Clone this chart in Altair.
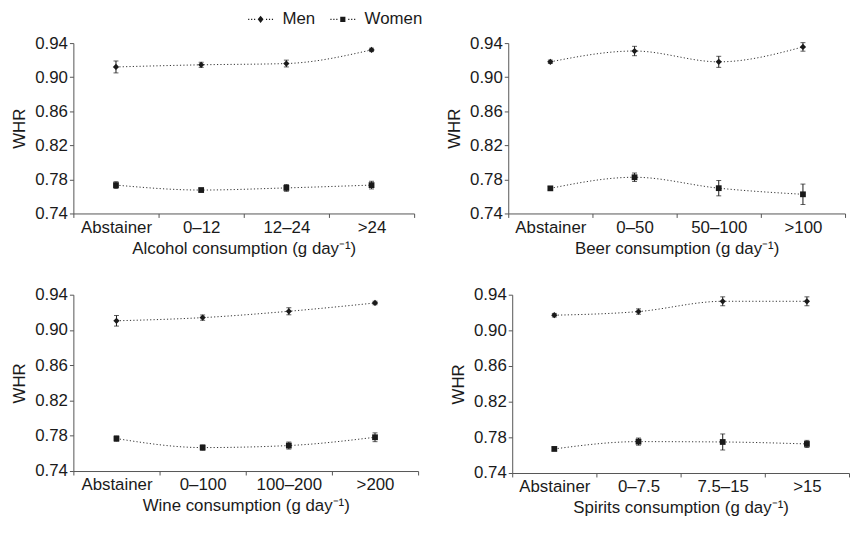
import altair as alt
import pandas as pd

# ---------------- data ----------------
alcohol_cats = ["Abstainer", "0–12", "12–24", ">24"]
alcohol_men = [0.912, 0.9145, 0.916, 0.932]
alcohol_men_err = [0.007, 0.003, 0.004, 0.002]
alcohol_women = [0.7733, 0.7675, 0.770, 0.7733]
alcohol_women_err = [0.004, 0.002, 0.004, 0.0045]

beer_cats = ["Abstainer", "0–50", "50–100", ">100"]
beer_men = [0.918, 0.9307, 0.918, 0.9355]
beer_men_err = [0.002, 0.0055, 0.0065, 0.005]
beer_women = [0.7695, 0.7825, 0.7697, 0.7625]
beer_women_err = [0.002, 0.005, 0.009, 0.012]

wine_cats = ["Abstainer", "0–100", "100–200", ">200"]
wine_men = [0.9104, 0.914, 0.9212, 0.9306]
wine_men_err = [0.006, 0.003, 0.004, 0.002]
wine_women = [0.7768, 0.7666, 0.7689, 0.7783]
wine_women_err = [0.003, 0.003, 0.004, 0.005]

spirits_cats = ["Abstainer", "0–7.5", "7.5–15", ">15"]
spirits_men = [0.917, 0.9211, 0.9326, 0.9326]
spirits_men_err = [0.002, 0.003, 0.005, 0.005]
spirits_women = [0.767, 0.7752, 0.7748, 0.7726]
spirits_women_err = [0.002, 0.004, 0.009, 0.004]

sexes = ["Men", "Women"]
y_ticks = [0.74, 0.78, 0.82, 0.86, 0.90, 0.94]

FONT = "Liberation Sans"
INK = "#1a1a1a"
FS = 17


# legend glyphs: a dotted line (tiny filled squares) with the marker in the middle
def dotted(marker):
    d = 0.065
    dots = "".join(
        f"M{cx - d:.3f},{-d:.3f}L{cx + d:.3f},{-d:.3f}L{cx + d:.3f},{d:.3f}L{cx - d:.3f},{d:.3f}Z"
        for cx in (-1.33, -1.0, -0.67, 0.67, 1.0, 1.33)
    )
    return dots + marker


men_path = dotted("M0,-0.4L0.33,0L0,0.4L-0.33,0Z")
women_path = dotted("M-0.29,-0.29L0.29,-0.29L0.29,0.29L-0.29,0.29Z")


def make_df(cats, men, men_err, women, women_err):
    rows = []
    for c, m, e in zip(cats, men, men_err):
        rows.append({"cat": c, "sex": "Men", "mean": m, "lo": m - e, "hi": m + e})
    for c, m, e in zip(cats, women, women_err):
        rows.append({"cat": c, "sex": "Women", "mean": m, "lo": m - e, "hi": m + e})
    return pd.DataFrame(rows)


def make_panel(cats, men, men_err, women, women_err, xtitle, w, h, legend=False):
    df = make_df(cats, men, men_err, women, women_err)
    base = alt.Chart(df)
    x = alt.X(
        "cat:N",
        sort=cats,
        scale=alt.Scale(domain=cats, paddingInner=0, paddingOuter=0),
        axis=alt.Axis(title=xtitle, labelAngle=0, tickBand="extent", tickSize=4,
                      labelPadding=2, titlePadding=5),
    )
    yscale = alt.Scale(domain=[0.74, 0.94], zero=False, nice=False)
    yaxis = alt.Axis(title="WHR", values=y_ticks, format=".2f", grid=False,
                     tickSize=4, labelPadding=2, titlePadding=6,
                     labelOverlap=False, labelBound=False)
    y = alt.Y("mean:Q", scale=yscale, axis=yaxis)
    ylo = alt.Y("lo:Q", scale=yscale, axis=yaxis)
    yhi = alt.Y("hi:Q", scale=yscale, axis=yaxis)
    line = base.mark_line(strokeDash=[1.2, 2.2], strokeWidth=1, color="#333",
                          interpolate="monotone").encode(x=x, y=y, detail="sex:N")
    rule = base.mark_rule(color=INK, strokeWidth=1).encode(x=x, y=ylo, y2="hi:Q")
    cap_lo = base.mark_tick(color=INK, size=5, thickness=1, orient="horizontal").encode(x=x, y=ylo)
    cap_hi = base.mark_tick(color=INK, size=5, thickness=1, orient="horizontal").encode(x=x, y=yhi)
    men_pts = base.transform_filter(alt.datum.sex == "Men").mark_point(
        shape="diamond", filled=True, size=40, color=INK, opacity=1).encode(x=x, y=y)
    women_pts = base.transform_filter(alt.datum.sex == "Women").mark_point(
        shape="square", filled=True, size=34, color=INK, opacity=1).encode(x=x, y=y)
    layers = [line, rule, cap_lo, cap_hi, men_pts, women_pts]
    if legend:
        leg = base.mark_point(filled=True, opacity=0, color=INK).encode(
            x=x, y=y,
            shape=alt.Shape(
                "sex:N",
                scale=alt.Scale(domain=sexes, range=[men_path, women_path]),
                legend=alt.Legend(
                    title=None, orient="none", direction="horizontal",
                    legendX=180, legendY=-33,
                    symbolSize=324, symbolFillColor=INK, symbolOpacity=1,
                    symbolStrokeWidth=0,
                    labelFontSize=FS, labelFont=FONT, labelColor=INK,
                    labelOffset=13, columnPadding=14,
                ),
            ),
        )
        layers.append(leg)
    return alt.layer(*layers).properties(width=w, height=h)


p1 = make_panel(alcohol_cats, alcohol_men, alcohol_men_err, alcohol_women, alcohol_women_err,
                "Alcohol consumption (g day⁻¹)", 344, 172, legend=True)
p2 = make_panel(beer_cats, beer_men, beer_men_err, beer_women, beer_women_err,
                "Beer consumption (g day⁻¹)", 340, 172)
p3 = make_panel(wine_cats, wine_men, wine_men_err, wine_women, wine_women_err,
                "Wine consumption (g day⁻¹)", 348, 178)
p4 = make_panel(spirits_cats, spirits_men, spirits_men_err, spirits_women, spirits_women_err,
                "Spirits consumption (g day⁻¹)", 340, 180)

chart = alt.vconcat(
    alt.hconcat(p1, p2, spacing=30),
    alt.hconcat(p3, p4, spacing=30),
    spacing=30,
).properties(
    padding={"left": 2, "top": 0, "right": 0, "bottom": 0}
).configure_view(stroke=None).configure_axis(
    domainColor="#555", tickColor="#555", labelColor=INK, titleColor=INK,
    labelFont=FONT, titleFont=FONT, labelFontSize=FS, titleFontSize=FS,
    titleFontWeight="normal", domainWidth=1, tickWidth=1,
).configure_axisY(labelOverlap=False)

chart.save("out.html", embed_options={"renderer": "svg", "actions": False})
